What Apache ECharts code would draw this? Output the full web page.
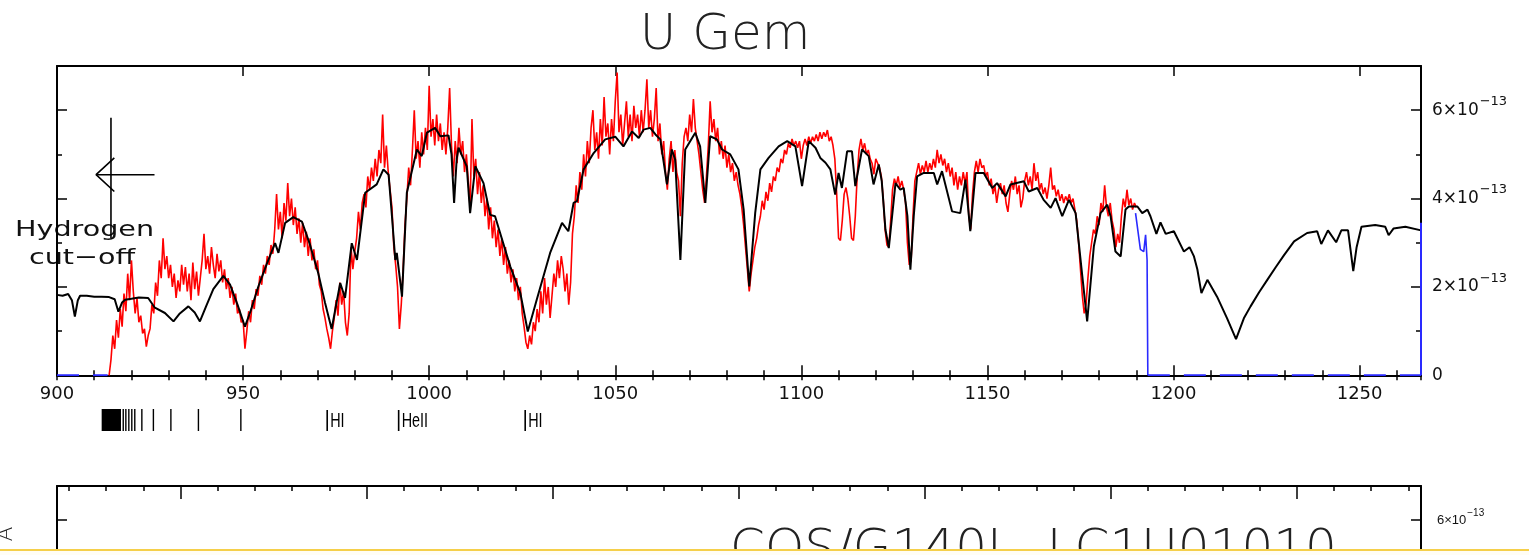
<!DOCTYPE html>
<html>
<head>
<meta charset="utf-8">
<script src="https://cdn.jsdelivr.net/npm/echarts@6/dist/echarts.min.js"></script>
<style>
  html, body { margin: 0; padding: 0; background: #ffffff; overflow: hidden; }
  #chart { width: 1529px; height: 900px; }
</style>
</head>
<body>
<div id="chart"></div>
<script>
// ---- Observed spectrum: uniform wavelength grid (Å), flux in units of 1e-13 ----
const obsStart = 914.0;
const obsStep = 0.5;
const obsFlux = [
  0.0, 0.35, 0.9, 0.6, 1.25, 0.85, 1.5, 1.1, 1.85, 1.45,
  2.3, 1.7, 2.6, 1.9, 1.4, 1.75, 1.2, 1.35, 0.95, 1.05,
  0.65, 0.9, 1.05, 1.6, 1.4, 2.1, 1.8, 2.6, 2.2, 3.1,
  2.4, 2.7, 2.2, 2.5, 2.0, 2.3, 1.75, 2.15, 1.9, 2.5,
  2.05, 2.45, 1.9, 2.3, 1.7, 2.55, 1.95, 2.35, 1.8, 2.2,
  2.6, 3.2, 2.4, 2.7, 2.3, 2.9, 2.5, 2.2, 2.75, 2.35,
  2.6, 2.1, 2.4, 1.95, 2.2, 1.75, 2.0, 1.6, 1.85, 1.4,
  1.5, 1.2, 1.25, 0.6, 1.0, 1.45, 1.2, 1.7, 1.5, 1.95,
  1.8, 2.25, 2.05, 2.5, 2.3, 2.7, 2.5, 2.95, 2.75, 3.3,
  4.1, 3.3, 3.7, 3.1, 3.9, 3.5, 4.35, 3.6, 4.0, 3.4,
  3.8, 3.2, 3.55, 3.0, 3.45, 2.9, 3.25, 2.7, 3.1, 2.6,
  2.85, 2.4, 2.6, 2.05, 1.9, 1.5, 1.3, 1.05, 0.85, 0.6,
  1.0, 1.3, 1.7, 1.35, 2.1, 1.6, 1.9, 1.2, 0.9, 1.4,
  2.9, 2.4, 2.8, 3.1, 3.7, 3.3, 3.9, 4.1, 3.8, 4.5,
  4.2, 4.7, 4.4, 4.9, 4.5, 5.1, 4.8, 5.9, 4.7, 5.2,
  4.6, 4.2, 3.8, 2.9, 2.5, 2.0, 1.05, 1.6, 2.4, 3.4,
  4.0, 4.7, 4.3, 5.1, 6.0, 4.9, 5.3, 4.7, 5.5, 5.0,
  5.6, 5.1, 6.55, 5.4, 5.8, 5.2, 5.9, 5.3, 5.7, 5.1,
  5.5, 5.0, 5.6, 6.5, 5.2, 4.5, 5.3, 4.8, 5.6, 5.0,
  5.3, 4.6, 5.0, 4.4, 3.8, 5.8, 4.5, 4.9, 4.1, 4.6,
  3.9, 4.3, 3.6, 4.0, 3.3, 3.8, 3.1, 3.5, 2.9, 3.3,
  2.7, 3.1, 2.5, 2.9, 2.3, 2.6, 2.1, 2.4, 1.9, 2.2,
  1.7, 2.0, 1.4, 1.1, 0.75, 0.6, 0.9, 0.7, 1.2, 1.0,
  1.5, 1.2, 1.9, 1.4, 2.2, 1.6, 2.0, 1.3, 1.8, 2.3,
  2.0, 2.6, 2.2, 2.7, 2.4, 1.9, 2.3, 1.6, 2.1, 3.2,
  3.6, 4.3, 3.9, 4.6, 4.2, 5.0, 4.5, 5.3, 4.8, 5.6,
  6.0, 5.1, 5.5, 4.9, 5.8, 5.2, 6.3, 5.4, 5.7, 5.0,
  5.8, 5.3, 6.2, 6.85, 5.5, 5.9, 5.2, 5.7, 6.2, 5.4,
  5.9, 5.3, 6.1, 5.6, 5.9, 5.4, 6.0, 5.5, 6.0, 6.7,
  5.6, 6.0, 5.4, 5.8, 6.5, 5.3, 5.7, 5.0, 5.3, 4.6,
  4.2, 4.9, 5.3, 4.6, 5.1, 4.6, 4.4, 3.6, 4.8, 5.4,
  5.6, 5.3, 5.9, 5.5, 6.25, 5.6, 5.3, 5.0, 4.6, 4.2,
  3.9, 4.5, 5.2, 6.2, 5.5, 5.8, 5.3, 5.6, 5.0, 5.3,
  4.9, 5.2, 4.7, 5.0, 4.6, 4.8, 4.4, 4.6, 4.3, 4.1,
  3.8, 3.4, 2.9, 2.4, 1.9, 2.3, 2.6, 2.9, 3.1, 3.4,
  3.6, 3.95, 3.75, 4.15, 3.95, 4.35, 4.15, 4.5, 4.4, 4.7,
  4.6, 4.9, 4.8, 5.1, 5.0, 5.25, 5.15, 5.35, 5.2, 5.3,
  5.15, 5.3, 4.9, 5.2, 5.35, 5.2, 5.4, 5.25, 5.4, 5.3,
  5.45, 5.3, 5.5, 5.35, 5.5, 5.4, 5.55, 5.3, 5.4, 5.2,
  4.9, 4.1, 3.1, 3.05, 3.5, 4.1, 4.25, 4.0, 3.6, 3.1,
  3.05, 3.6, 4.5, 5.1, 5.35, 5.1, 5.25, 5.0, 5.1, 4.9,
  4.8, 4.55, 4.9, 4.8, 4.7, 4.5, 4.0, 3.3, 2.95, 2.9,
  3.5, 4.2, 4.45, 4.3, 4.5, 4.25, 4.4, 4.2, 3.9, 3.0,
  2.5, 2.6, 3.6, 4.4, 4.6, 4.8, 4.55, 4.75, 4.6, 4.85,
  4.6, 4.8, 4.65, 4.9, 4.7, 5.1, 4.8, 5.0, 4.75, 4.9,
  4.6, 4.8, 4.5, 4.7, 4.3, 4.6, 4.2, 4.5, 4.3, 4.6,
  4.35, 4.6, 3.6, 3.3, 4.1, 4.6, 4.85, 4.6, 4.9, 4.7,
  4.75, 4.5, 4.6, 4.3, 4.45, 4.1, 4.3, 3.9, 4.2, 4.35,
  4.1, 4.3, 3.9, 3.7, 4.1, 4.4, 4.2, 4.5, 4.1, 4.3,
  3.8, 4.0, 4.4, 4.6, 4.3, 4.5, 4.2, 4.8, 4.4, 4.6,
  4.2, 4.35, 4.1, 4.25, 4.0, 4.3, 4.7, 4.2, 4.3, 4.05,
  4.2, 3.95, 4.1, 3.9, 4.05, 3.95, 4.1, 3.9, 4.0, 3.75,
  3.5, 3.0, 2.4, 1.8, 1.4, 1.6, 2.2, 2.7, 3.0, 3.3,
  3.2, 3.6, 3.4, 3.9, 3.7, 4.3, 3.8, 3.6, 3.9, 3.5,
  3.3, 2.9, 3.2, 3.0, 3.6, 4.0, 3.8, 4.2, 3.85, 4.0,
  3.75, 3.9, 3.8
];

// ---- Model spectrum: [wavelength Å, flux 1e-13] ----
const modelSpectrum = [
  [900.0,1.82],[901.5,1.80],[903.0,1.84],[904.0,1.70],[904.8,1.33],[905.6,1.70],[906.2,1.80],[908.0,1.80],
  [910.0,1.78],[912.0,1.78],[914.0,1.77],[915.5,1.72],[916.5,1.44],[917.5,1.65],[918.3,1.71],[920.0,1.73],
  [922.0,1.76],[924.5,1.75],[926.3,1.53],[929.0,1.41],[931.3,1.22],[933.0,1.40],[935.3,1.56],[937.0,1.42],
  [938.4,1.22],[940.0,1.55],[942.0,1.95],[944.7,2.25],[946.5,2.05],[948.5,1.60],[950.5,1.10],[952.0,1.45],
  [954.1,2.01],[956.5,2.55],[958.6,2.99],[959.5,2.77],[961.3,3.45],[963.5,3.58],[965.8,3.48],[968.0,2.95],
  [970.2,2.31],[972.0,1.65],[973.8,1.05],[976.1,2.09],[977.4,1.75],[979.2,2.99],[980.6,2.61],[982.8,4.13],
  [985.9,4.32],[987.7,4.66],[989.1,4.54],[990.0,3.60],[990.9,2.61],[991.3,2.77],[992.7,1.78],[994.0,4.13],
  [996.7,5.11],[998.0,4.96],[999.4,5.49],[1001.6,5.60],[1003.0,5.41],[1005.2,5.43],[1006.0,5.00],[1006.7,3.90],
  [1007.4,4.90],[1007.9,5.15],[1010.1,4.73],[1011.0,3.67],[1012.4,4.73],[1014.6,4.35],[1016.4,3.63],[1017.7,3.60],
  [1021.8,2.46],[1024.5,1.86],[1026.5,0.99],[1028.9,1.71],[1032.5,2.77],[1035.7,3.45],[1037.4,3.26],[1038.8,3.90],
  [1039.7,3.94],[1041.5,4.66],[1044.2,5.03],[1047.3,5.34],[1050.0,5.40],[1052.2,5.18],[1054.5,5.52],[1056.3,5.37],
  [1057.6,5.56],[1059.4,5.60],[1060.8,5.45],[1062.1,5.34],[1063.9,4.32],[1065.2,5.11],[1066.1,4.88],[1067.5,2.61],
  [1068.8,5.11],[1071.5,5.49],[1072.8,5.18],[1074.2,3.90],[1075.5,5.41],[1077.3,5.34],[1078.7,5.11],[1080.9,5.00],
  [1083.1,4.66],[1084.5,3.75],[1086.0,2.01],[1087.6,3.67],[1089.0,4.66],[1091.2,4.92],[1093.9,5.18],[1096.2,5.30],
  [1098.4,5.18],[1100.2,4.28],[1102.0,5.30],[1103.8,5.15],[1105.1,4.92],[1106.5,4.81],[1107.8,4.66],[1109.1,4.09],
  [1110.0,4.58],[1110.9,4.24],[1112.3,5.07],[1113.6,5.07],[1114.5,4.28],[1116.3,5.11],[1118.1,4.96],[1119.4,4.32],
  [1120.8,4.77],[1121.6,4.40],[1122.6,3.30],[1123.5,2.88],[1125.3,4.35],[1126.6,4.20],[1127.5,4.24],[1128.5,3.60],
  [1129.3,2.39],[1130.2,3.60],[1131.1,4.50],[1132.9,4.58],[1135.6,4.58],[1136.5,4.32],[1137.8,4.62],[1140.5,3.71],
  [1142.7,3.67],[1144.1,4.43],[1145.4,3.26],[1146.8,4.58],[1149.0,4.58],[1151.3,4.24],[1152.6,4.35],[1154.9,4.05],
  [1156.2,4.32],[1159.8,4.39],[1161.1,4.16],[1163.4,4.24],[1165.1,3.97],[1167.0,3.79],[1168.3,4.01],[1170.1,3.60],
  [1171.9,3.97],[1173.7,3.67],[1175.5,2.24],[1176.8,1.22],[1178.6,2.92],[1180.4,3.67],[1182.2,3.86],[1183.1,3.60],
  [1184.4,2.80],[1185.8,2.69],[1187.1,3.75],[1188.0,3.82],[1190.3,3.82],[1191.6,3.67],[1193.0,3.75],[1193.8,3.60],
  [1195.4,3.20],[1196.5,3.46],[1197.9,3.20],[1200.1,3.26],[1202.8,2.80],[1204.3,2.90],[1205.5,2.69],[1206.4,2.40],
  [1207.5,1.86],[1209.1,2.16],[1211.7,1.78],[1214.4,1.29],[1216.8,0.82],[1218.9,1.29],[1220.7,1.56],[1223.0,1.88],
  [1225.2,2.16],[1227.5,2.45],[1229.7,2.72],[1232.4,3.03],[1235.9,3.22],[1238.6,3.26],[1239.7,2.97],[1241.5,3.28],
  [1243.7,3.01],[1245.1,3.28],[1246.9,3.28],[1248.3,2.36],[1249.2,2.90],[1250.5,3.36],[1254.2,3.40],[1256.9,3.36],
  [1257.8,3.17],[1259.1,3.32],[1262.3,3.36],[1266.5,3.28]
];

// ---- Second spectrum (blue): red end, zero stretches, and the closing edge ----
const blueSpectrum = [[1189.8,3.67],[1191.1,2.85],[1192.0,2.80],[1192.5,3.18],[1192.9,2.61],[1193.1,0]];
const blueZeroLeft = [[900.0,0],[913.6,0]];
const blueZeroRight = [[1193.1,0],[1266.5,0]];
const blueEdge = [[1266.5,0],[1266.5,3.45]];

// ---- "Hydrogen cut-off" arrow, in data coordinates ----
const arrowStem = [[914.5,5.83],[914.5,3.10]];
const arrowShaft = [[910.5,4.54],[926.2,4.54]];
const arrowHead = [[915.4,4.92],[910.5,4.54],[915.4,4.16]];

// ---- Line identifications below the axis ----
const lymanBlock = [912.0, 917.2];
const lymanMarks = [917.8, 918.5, 919.3, 920.1, 920.9, 922.8, 925.9, 930.6, 938.0, 949.4];
const lineIds = [
  { wl: 972.6, label: 'HI' },
  { wl: 991.8, label: 'HeII' },
  { wl: 1025.8, label: 'HI' }
];

// ---- Axis settings ----
const xRange = [900, 1266.5];
const yRange = [0, 7];
const panel2XRange = [1116.8, 1483.4];
const panel2YRange = [0, 6.74];
const yExponent = '−13';
const titleText = 'U Gem';
const panel2Text = 'COS/G140L  LC1U01010';

const FONT = 'DejaVu Sans';
const obsData = obsFlux.map((f, i) => [obsStart + i * obsStep, f]);

function yLabel(v) {
  return v === 0 ? '{m|0}' : '{m|' + v + '×10}{e|' + yExponent + '}';
}

function axisCfg(grid, pos, range, opts) {
  return Object.assign({
    gridIndex: grid, type: 'value', position: pos, min: range[0], max: range[1],
    axisLine: { show: true, onZero: false, lineStyle: { color: '#000', width: 2 } },
    axisTick: { show: true, inside: true, length: 10, lineStyle: { color: '#000', width: 1.5 } },
    axisLabel: { show: false },
    splitLine: { show: false }
  }, opts);
}
const minorTick = { show: true, inside: true, length: 5, lineStyle: { color: '#000', width: 1.5 } };

const option = {
  animation: false,
  backgroundColor: '#ffffff',
  grid: [
    { left: 57, top: 66, width: 1364, height: 309.3 },
    { left: 57, top: 486, width: 1364, height: 309 }
  ],
  xAxis: [
    axisCfg(0, 'bottom', xRange, {
      interval: 50,
      axisLabel: { show: true, showMaxLabel: false, margin: 10, fontSize: 18, fontFamily: FONT, color: '#111',
        formatter: (v) => String(v) }
    }),
    axisCfg(0, 'bottom', xRange, { interval: 10, axisLine: { show: false }, axisTick: minorTick }),
    axisCfg(0, 'top', xRange, { interval: 50 }),
    axisCfg(0, 'top', xRange, { interval: 10, axisLine: { show: false }, axisTick: minorTick }),
    axisCfg(1, 'top', panel2XRange, {
      minInterval: 50, maxInterval: 50,
      axisTick: { show: true, inside: true, length: 13, lineStyle: { color: '#000', width: 1.5 } },
      minorTick: { show: true, splitNumber: 5, length: 5, lineStyle: { color: '#000', width: 1.5 } }
    })
  ],
  yAxis: [
    axisCfg(0, 'right', yRange, {
      interval: 2,
      axisLabel: {
        show: true, showMaxLabel: false, margin: 11, formatter: yLabel,
        rich: {
          m: { fontSize: 17, fontFamily: FONT, color: '#111', lineHeight: 30 },
          e: { fontSize: 13, fontFamily: FONT, color: '#111', verticalAlign: 'top', padding: [0, 0, 0, 1] }
        }
      }
    }),
    axisCfg(0, 'right', yRange, { interval: 1, axisLine: { show: false }, axisTick: minorTick }),
    axisCfg(0, 'left', yRange, { interval: 2 }),
    axisCfg(0, 'left', yRange, { interval: 1, axisLine: { show: false }, axisTick: minorTick }),
    axisCfg(1, 'right', panel2YRange, {
      interval: 2,
      axisLabel: {
        show: true, showMaxLabel: false, margin: 16, formatter: yLabel,
        rich: {
          m: { fontSize: 13, fontFamily: 'Liberation Sans Narrow, Liberation Sans', color: '#111', lineHeight: 24 },
          e: { fontSize: 10, fontFamily: 'Liberation Sans Narrow, Liberation Sans', color: '#111', verticalAlign: 'top', padding: [0, 0, 0, 1] }
        }
      }
    }),
    axisCfg(1, 'left', panel2YRange, { interval: 2 })
  ],
  series: [
    {
      name: 'observed', type: 'line', xAxisIndex: 0, yAxisIndex: 0, data: obsData,
      showSymbol: false, sampling: null, z: 2,
      lineStyle: { color: '#ff0000', width: 1.6 }
    },
    {
      name: 'model', type: 'line', xAxisIndex: 0, yAxisIndex: 0, data: modelSpectrum,
      showSymbol: false, z: 3,
      lineStyle: { color: '#000000', width: 2 }
    },
    {
      name: 'blue', type: 'line', xAxisIndex: 0, yAxisIndex: 0, data: blueSpectrum,
      showSymbol: false, z: 4,
      lineStyle: { color: '#2a2aff', width: 1.6 }
    },
    {
      name: 'blueZeroLeft', type: 'line', xAxisIndex: 0, yAxisIndex: 0, data: blueZeroLeft,
      showSymbol: false, z: 5,
      lineStyle: { color: '#2a2aff', width: 2, type: [22, 14] }
    },
    {
      name: 'blueZeroRight', type: 'line', xAxisIndex: 0, yAxisIndex: 0, data: blueZeroRight,
      showSymbol: false, z: 5,
      lineStyle: { color: '#2a2aff', width: 2, type: [22, 14] }
    },
    {
      name: 'blueEdge', type: 'line', xAxisIndex: 0, yAxisIndex: 0, data: blueEdge,
      showSymbol: false, z: 5,
      lineStyle: { color: '#2a2aff', width: 2 }
    },
    {
      name: 'arrowStem', type: 'line', xAxisIndex: 0, yAxisIndex: 0, data: arrowStem,
      showSymbol: false, z: 6, lineStyle: { color: '#000', width: 1.6 }
    },
    {
      name: 'arrowShaft', type: 'line', xAxisIndex: 0, yAxisIndex: 0, data: arrowShaft,
      showSymbol: false, z: 6, lineStyle: { color: '#000', width: 1.6 }
    },
    {
      name: 'arrowHead', type: 'line', xAxisIndex: 0, yAxisIndex: 0, data: arrowHead,
      showSymbol: false, z: 6, lineStyle: { color: '#000', width: 1.6 }
    }
  ]
};

const chart = echarts.init(document.getElementById('chart'), null, { renderer: 'canvas' });
chart.setOption(option);

// Annotations placed through the wavelength scale of the upper panel
const px = (wl) => chart.convertToPixel({ xAxisIndex: 0 }, wl);
const graphics = [];

const bx0 = px(lymanBlock[0]), bx1 = px(lymanBlock[1]);
graphics.push({ type: 'rect', shape: { x: bx0, y: 409, width: bx1 - bx0, height: 22 }, style: { fill: '#000' } });
lymanMarks.forEach((wl) => {
  const x = px(wl);
  graphics.push({ type: 'line', shape: { x1: x, y1: 409, x2: x, y2: 431 }, style: { stroke: '#000', lineWidth: 1.4 } });
});
lineIds.forEach((d) => {
  const x = px(d.wl);
  graphics.push({ type: 'line', shape: { x1: x, y1: 410, x2: x, y2: 431 }, style: { stroke: '#000', lineWidth: 1.6 } });
  graphics.push({
    type: 'text', x: x + 3, y: 421, scaleX: 0.72,
    style: { text: d.label, fontSize: 20, fontFamily: 'Liberation Sans', fill: '#000', textVerticalAlign: 'middle', textAlign: 'left' }
  });
});

// Title
graphics.push({
  type: 'text', x: 725, y: 36,
  style: { text: titleText, fontSize: 50, fontWeight: 200, fontFamily: FONT, fill: '#222', textAlign: 'center', textVerticalAlign: 'middle' }
});

// Cut-off caption
graphics.push({
  type: 'text', x: 15, y: 230, scaleX: 1.3,
  style: { text: 'Hydrogen', fontSize: 22, fontFamily: FONT, fill: '#111', textAlign: 'left', textVerticalAlign: 'middle' }
});
graphics.push({
  type: 'text', x: 29, y: 258, scaleX: 1.3,
  style: { text: 'cut−off', fontSize: 22, fontFamily: FONT, fill: '#111', textAlign: 'left', textVerticalAlign: 'middle' }
});

// Lower panel caption and rotated axis label fragment
graphics.push({
  type: 'text', x: 730, y: 551,
  style: { text: panel2Text, fontSize: 50, fontWeight: 200, fontFamily: FONT, fill: '#222', textAlign: 'left', textVerticalAlign: 'middle' }
});
graphics.push({
  type: 'text', x: 6, y: 534, rotation: Math.PI / 2,
  style: { text: 'Å', fontSize: 22, fontWeight: 200, fontFamily: FONT, fill: '#222', textAlign: 'center', textVerticalAlign: 'middle' }
});

// Bottom edge strip
graphics.push({ type: 'rect', shape: { x: 0, y: 550, width: 1529, height: 350 }, style: { fill: '#fffdf5' }, z: 100 });
graphics.push({ type: 'rect', shape: { x: 0, y: 549, width: 1529, height: 2 }, style: { fill: '#f5cf4a' }, z: 101 });

chart.setOption({ graphic: graphics });
</script>
</body>
</html>
